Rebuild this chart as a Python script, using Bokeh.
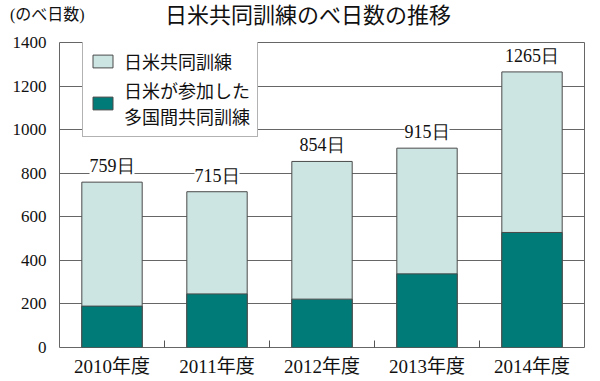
from bokeh.plotting import figure
from bokeh.layouts import column
from bokeh.models import ColumnDataSource, FixedTicker, Legend, LegendItem, LabelSet, Div
from bokeh.embed import file_html
from bokeh.resources import INLINE

years = ["2010年度", "2011年度", "2012年度", "2013年度", "2014年度"]
total_days = [759, 715, 854, 915, 1265]
multinational_days = [190, 246, 222, 338, 528]
total_labels = ["759日", "715日", "854日", "915日", "1265日"]
y_ticks = [0, 200, 400, 600, 800, 1000, 1200, 1400]
title_text = "日米共同訓練のべ日数の推移"
unit_text = "(のべ日数)"

LIGHT = "#cce4e2"
DARK = "#007b78"
SERIF = "Liberation Serif, Noto Sans CJK JP"
SANS = "Liberation Sans, Noto Sans CJK JP"

xpos = [i + 0.5 for i in range(len(years))]
src = ColumnDataSource(dict(x=xpos, total=total_days, multi=multinational_days,
                            lab=total_labels, zero=[0] * len(years)))

header = Div(
    text=('<div style="position:relative;width:600px;height:34px;color:#111;">'
          '<span style="position:absolute;left:10px;top:4px;font-size:16px;'
          'font-family:\'Liberation Serif\',\'Noto Sans CJK JP\';white-space:nowrap;">%s</span>'
          '<span style="position:absolute;left:0px;width:616px;top:0px;text-align:center;'
          'font-size:22px;font-family:\'Liberation Sans\',\'Noto Sans CJK JP\';white-space:nowrap;">%s</span>'
          '</div>') % (unit_text, title_text),
    width=600, height=34, margin=(0, 0, 0, 0))

p = figure(width=600, height=347, x_range=(0, len(years)), y_range=(0, 1400),
           output_backend="svg", toolbar_location=None,
           min_border_left=59, min_border_right=16, min_border_top=8, min_border_bottom=34)
p.margin = (0, 0, 0, 0)
p.outline_line_color = "#666666"
p.outline_line_width = 1

r1 = p.vbar(x="x", top="total", bottom="zero", width=0.575, source=src,
            fill_color=LIGHT, line_color="#4a4a4a", line_width=1)
r2 = p.vbar(x="x", top="multi", bottom="zero", width=0.575, source=src,
            fill_color=DARK, line_color="#4a4a4a", line_width=1)

p.xgrid.visible = False
p.ygrid.grid_line_color = "#666666"
p.ygrid.grid_line_width = 1
p.ygrid.ticker = FixedTicker(ticks=y_ticks)

p.yaxis.ticker = FixedTicker(ticks=y_ticks)
p.yaxis.major_tick_out = 0
p.yaxis.major_tick_in = 0
p.yaxis.minor_tick_out = 0
p.yaxis.minor_tick_in = 0
p.yaxis.axis_line_color = None
p.yaxis.major_label_standoff = 13
p.yaxis.major_label_text_font = SERIF
p.yaxis.major_label_text_font_size = "17px"
p.yaxis.major_label_text_color = "#111111"

p.xaxis.ticker = FixedTicker(ticks=xpos, minor_ticks=list(range(1, len(years))))
p.xaxis.major_label_overrides = {x: y for x, y in zip(xpos, years)}
p.xaxis.major_tick_out = 0
p.xaxis.major_tick_in = 0
p.xaxis.minor_tick_out = 0
p.xaxis.minor_tick_in = 7
p.xaxis.minor_tick_line_color = "#555555"
p.xaxis.axis_line_color = None
p.xaxis.major_label_standoff = 8
p.xaxis.major_label_text_font = SERIF
p.xaxis.major_label_text_font_size = "19px"
p.xaxis.major_label_text_color = "#111111"

labels = LabelSet(x="x", y="total", text="lab", source=src, y_offset=6,
                  text_align="center", text_baseline="bottom",
                  text_font=SANS, text_font_size="18px", text_color="#111111",
                  background_fill_color="white")
p.add_layout(labels)

legend = Legend(items=[LegendItem(label="日米共同訓練", renderers=[r1]),
                       LegendItem(label="日米が参加した\n多国間共同訓練", renderers=[r2])],
                location=(23, 210))
legend.label_text_font = SANS
legend.label_text_font_size = "18px"
legend.label_text_color = "#111111"
legend.glyph_width = 25
legend.glyph_height = 16
legend.label_standoff = 9
legend.spacing = 3
legend.padding = 7
legend.margin = 0
legend.border_line_color = "#666666"
legend.background_fill_alpha = 1.0
p.add_layout(legend)

layout = column(header, p, spacing=0)
open("out.html", "w").write(file_html(layout, INLINE))
